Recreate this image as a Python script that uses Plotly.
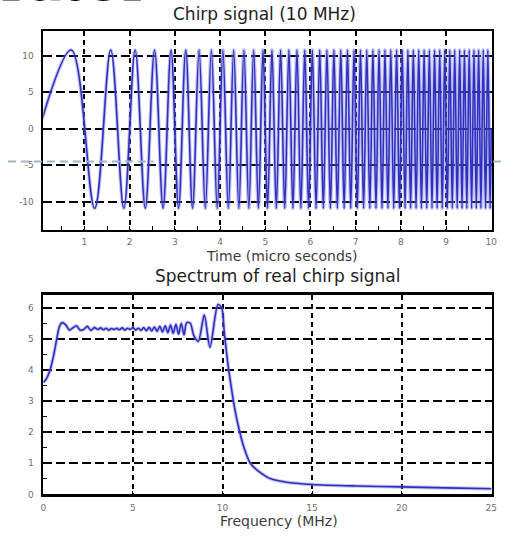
import plotly.graph_objects as go

W, H = 506, 541

# ---- Chirp signal: times (micro s) of the zero start, each peak/trough, and end
chirp_t = [0.0, 0.707, 1.225, 1.581, 1.871, 2.121, 2.345, 2.550, 2.739, 2.915, 3.082,
           3.240, 3.391, 3.536, 3.674, 3.808, 3.937, 4.062, 4.183, 4.301, 4.416,
           4.528, 4.637, 4.743, 4.848, 4.950, 5.050, 5.148, 5.244, 5.339, 5.431,
           5.523, 5.612, 5.701, 5.788, 5.874, 5.958, 6.042, 6.124, 6.205, 6.285,
           6.364, 6.442, 6.519, 6.595, 6.671, 6.745, 6.819, 6.892, 6.964, 7.036,
           7.106, 7.176, 7.246, 7.314, 7.382, 7.450, 7.517, 7.583, 7.649, 7.714,
           7.778, 7.842, 7.906, 7.969, 8.031, 8.093, 8.155, 8.216, 8.276, 8.337,
           8.396, 8.456, 8.515, 8.573, 8.631, 8.689, 8.746, 8.803, 8.860, 8.916,
           8.972, 9.028, 9.083, 9.138, 9.192, 9.247, 9.301, 9.354, 9.407, 9.460,
           9.513, 9.566, 9.618, 9.670, 9.721, 9.772, 9.823, 9.874, 9.925, 9.975, 10.0]
chirp_v = [0.0, 10.8, -10.9, 10.8, -10.9, 10.8, -10.9, 10.8, -10.9, 10.8, -10.9,
           10.8, -10.9, 10.8, -10.9, 10.8, -10.9, 10.8, -10.9, 10.8, -10.9,
           10.8, -10.9, 10.8, -10.9, 10.8, -10.9, 10.8, -10.9, 10.8, -10.9,
           10.8, -10.9, 10.8, -10.9, 10.8, -10.9, 10.8, -10.9, 10.8, -10.9,
           10.8, -10.9, 10.8, -10.9, 10.8, -10.9, 10.8, -10.9, 10.8, -10.9,
           10.8, -10.9, 10.8, -10.9, 10.8, -10.9, 10.8, -10.9, 10.8, -10.9,
           10.8, -10.9, 10.8, -10.9, 10.8, -10.9, 10.8, -10.9, 10.8, -10.9,
           10.8, -10.9, 10.8, -10.9, 10.8, -10.9, 10.8, -10.9, 10.8, -10.9,
           10.8, -10.9, 10.8, -10.9, 10.8, -10.9, 10.8, -10.9, 10.8, -10.9,
           10.8, -10.9, 10.8, -10.9, 10.8, -10.9, 10.8, -10.9, 10.8, -10.9, 0.0]

# ---- Spectrum of the real chirp signal
spec_f = [0.0, 0.15, 0.35, 0.55, 0.75, 0.9, 1.05, 1.25, 1.45, 1.65, 1.85, 2.05, 2.25,
          2.45, 2.65, 2.85, 3.05, 3.2, 3.35, 3.5, 3.65, 3.8, 3.95, 4.1, 4.25, 4.4,
          4.55, 4.7, 4.85, 5.0, 5.15, 5.3, 5.45, 5.6, 5.75, 5.9, 6.05, 6.2, 6.35,
          6.5, 6.65, 6.8, 6.95, 7.1, 7.25, 7.4, 7.55, 7.7, 7.85, 8.0, 8.2, 8.4,
          8.65, 8.98, 9.3, 9.75, 9.95, 10.1, 10.3, 10.5, 10.7, 10.9, 11.2, 11.55,
          12.0, 12.7, 13.5, 15.0, 17.5, 20.0, 22.5, 25.0]
spec_v = [3.6, 3.7, 3.95, 4.4, 5.0, 5.4, 5.52, 5.45, 5.28, 5.35, 5.42, 5.28, 5.3,
          5.4, 5.27, 5.36, 5.3, 5.35, 5.29, 5.34, 5.28, 5.33, 5.3, 5.34, 5.29, 5.35,
          5.28, 5.34, 5.3, 5.36, 5.28, 5.34, 5.27, 5.36, 5.26, 5.37, 5.25, 5.38, 5.24,
          5.4, 5.22, 5.42, 5.2, 5.44, 5.18, 5.47, 5.15, 5.5, 5.12, 5.52, 5.5, 5.1,
          4.92, 5.76, 4.73, 6.1, 6.0, 5.2, 4.2, 3.4, 2.7, 2.15, 1.5, 1.0,
          0.75, 0.5, 0.4, 0.32, 0.27, 0.24, 0.21, 0.18]

top_xticks = [1, 2, 3, 4, 5, 6, 7, 8, 9, 10]
top_yticks = [-10, -5, 0, 5, 10]
bot_xticks = [0, 5, 10, 15, 20, 25]
bot_yticks = [0, 1, 2, 3, 4, 5, 6]

LINE = "#3030c0"
HALO = "rgba(120,120,225,0.45)"
SANS = "DejaVu Sans, Verdana, sans-serif"
TICKFONT = dict(family=SANS, size=9, color="#6e6e6e")


def px_x(p):
    return p / W


def px_y(p):
    return 1 - p / H


fig = go.Figure()
# soft halo + core line (the reference trace is slightly blurred)
for col, wd in [(HALO, 3.6), (LINE, 1.6)]:
    fig.add_trace(go.Scatter(x=chirp_t, y=chirp_v, mode="lines",
                             line=dict(color=col, width=wd, shape="spline", smoothing=1.0),
                             xaxis="x", yaxis="y", hoverinfo="skip"))
    fig.add_trace(go.Scatter(x=spec_f, y=spec_v, mode="lines",
                             line=dict(color=col, width=wd, shape="spline", smoothing=0.8),
                             xaxis="x2", yaxis="y2", hoverinfo="skip"))

axis_common = dict(showline=True, linecolor="black", mirror=True, showgrid=True,
                   gridcolor="black", zeroline=False, ticks="inside", ticklen=4,
                   tickcolor="black", tickfont=TICKFONT, tickmode="array")

fig.update_layout(
    width=W, height=H, margin=dict(l=0, r=0, t=0, b=0),
    paper_bgcolor="white", plot_bgcolor="white", showlegend=False,
    xaxis=dict(axis_common, domain=[px_x(41), px_x(497)], range=[0.09, 10.02],
               tickvals=top_xticks, ticktext=[str(v) for v in top_xticks],
               linewidth=2, gridwidth=1.5, griddash="5px,4px", anchor="y",
               ticklabelstandoff=2,
               minor=dict(tickvals=[0.5, 1.5, 2.5, 3.5, 4.5, 5.5, 6.5, 7.5, 8.5, 9.5],
                          ticks="inside", ticklen=4, tickcolor="black", showgrid=False)),
    yaxis=dict(axis_common, domain=[px_y(232), px_y(31)], range=[-13.86, 13.45],
               tickvals=top_yticks, ticktext=[str(v) for v in top_yticks],
               linewidth=1.5, gridwidth=1.8, griddash="9px,4px", anchor="x",
               ticklabelstandoff=6),
    xaxis2=dict(axis_common, domain=[px_x(41), px_x(497)], range=[0, 25.05],
                tickvals=bot_xticks, ticktext=[str(v) for v in bot_xticks],
                linewidth=2.5, gridwidth=1.5, griddash="5px,4px", anchor="y2",
                ticklabelstandoff=3),
    yaxis2=dict(axis_common, domain=[px_y(499), px_y(298)], range=[0, 6.4],
                tickvals=bot_yticks, ticktext=[str(v) for v in bot_yticks],
                linewidth=1.5, gridwidth=1.8, griddash="9px,4px", anchor="x2",
                ticklabelstandoff=6,
                minor=dict(tickvals=[0.5, 1.5, 2.5, 3.5, 4.5, 5.5],
                           ticks="inside", ticklen=4, tickcolor="black", showgrid=False)),
)

TITLE_FONT = dict(family=SANS, size=17, color="#1e1e1e")
annots = [
    dict(text="Chirp signal (10 MHz)", x=px_x(266), y=px_y(14), font=TITLE_FONT),
    dict(text="Spectrum of real chirp signal", x=px_x(279), y=px_y(279), font=TITLE_FONT),
    dict(text="Time (micro seconds)", x=px_x(283), y=px_y(258.5),
         font=dict(family=SANS, size=14, color="#3c3c3c")),
    dict(text="Frequency (MHz)", x=px_x(280), y=px_y(526),
         font=dict(family=SANS, size=14, color="#3c3c3c")),
]
for a in annots:
    fig.add_annotation(xref="paper", yref="paper", showarrow=False,
                       xanchor="center", yanchor="middle", **a)

# partially cut-off slide heading at the very top
fig.add_annotation(text="rator", xref="paper", yref="paper", x=px_x(-4), y=px_y(19),
                   xanchor="left", yanchor="bottom", showarrow=False,
                   font=dict(family="Liberation Serif, Times New Roman, serif",
                             size=78, color="black"))

# stray dashed guide line from the slide
for x0, x1 in [(5, 153), (498, 506)]:
    fig.add_shape(type="line", xref="paper", yref="paper",
                  x0=px_x(x0), x1=px_x(x1), y0=px_y(163), y1=px_y(163),
                  line=dict(color="#9db8cc", width=2, dash="8px,5px"), layer="above")

fig.write_html("out.html")
